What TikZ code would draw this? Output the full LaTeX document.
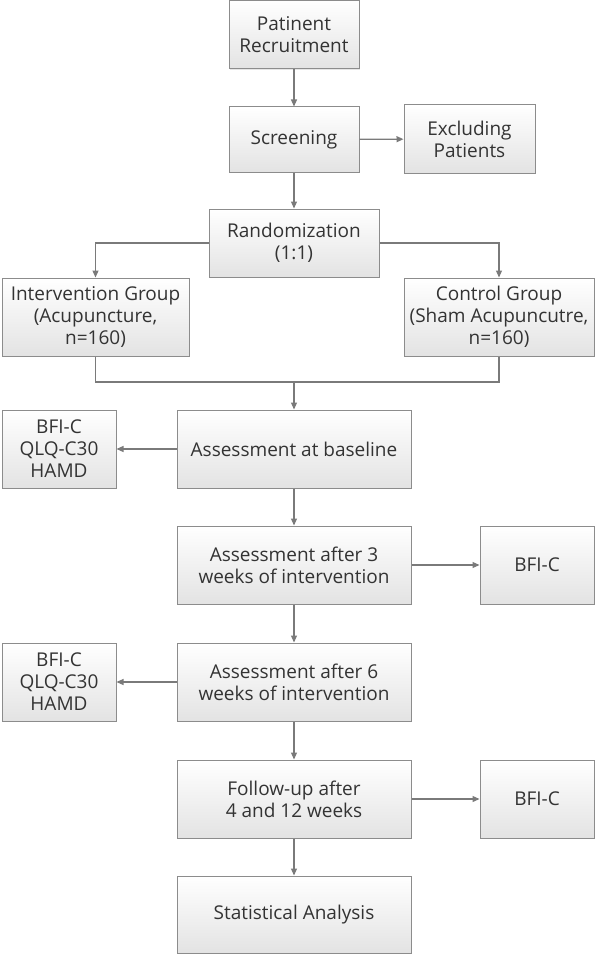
\documentclass[tikz,border=0pt]{standalone}
\usepackage{fontspec}
\setmainfont{Open Sans}
\usetikzlibrary{arrows.meta,shadows}

\definecolor{edgegray}{HTML}{7A7A7A}
\definecolor{boxline}{HTML}{8C8C8C}

\begin{document}
\begin{tikzpicture}[x=1pt,y=-1pt,
	block/.style={draw=boxline,line width=1pt,top color=white,bottom color=black!11,
		drop shadow={shadow xshift=1pt,shadow yshift=-1pt,opacity=0.2},
		align=center,inner sep=2pt,font=\fontsize{19}{22}\selectfont,text=black!80},
	link/.style={draw=edgegray,line width=1.2pt,-{Triangle[length=7pt,width=6pt]}}]
	\useasboundingbox (0,0) rectangle (596,955);
	\node[block,minimum width=130pt,minimum height=68pt] (recruit) at (294,35) {Patinent\\Recruitment};
	\node[block,minimum width=130pt,minimum height=65pt] (screen) at (294,139.5) {Screening};
	\node[block,minimum width=131pt,minimum height=68pt] (exclude) at (469.5,139) {Excluding\\Patients};
	\node[block,minimum width=170pt,minimum height=68pt] (random) at (294,243) {Randomization\\(1:1)};
	\node[block,minimum width=187pt,minimum height=78pt] (interv) at (95.5,317) {Intervention Group\\(Acupuncture,\\n=160)};
	\node[block,minimum width=190pt,minimum height=78pt] (control) at (499,317) {Control Group\\(Sham Acupuncutre,\\n=160)};
	\coordinate (merge) at (294,382);
	\node[block,minimum width=234pt,minimum height=78pt] (base) at (294,449) {Assessment at baseline};
	\node[block,minimum width=114pt,minimum height=78pt] (scoreA) at (59,449) {BFI-C\\QLQ-C30\\HAMD};
	\node[block,minimum width=234pt,minimum height=78pt] (week3) at (294,565) {Assessment after 3\\weeks of intervention};
	\node[block,minimum width=114pt,minimum height=78pt] (bfiA) at (537,565) {BFI-C};
	\node[block,minimum width=234pt,minimum height=78pt] (week6) at (294,682) {Assessment after 6\\weeks of intervention};
	\node[block,minimum width=114pt,minimum height=78pt] (scoreB) at (59,682) {BFI-C\\QLQ-C30\\HAMD};
	\node[block,minimum width=234pt,minimum height=78pt] (follow) at (294,799) {Follow-up after\\4 and 12 weeks};
	\node[block,minimum width=114pt,minimum height=78pt] (bfiB) at (537,799) {BFI-C};
	\node[block,minimum width=234pt,minimum height=77pt] (stats) at (294,914.5) {Statistical Analysis};

	\draw[link] (recruit) -- (screen);
	\draw[link] (screen) -- (exclude);
	\draw[link] (screen) -- (random);
	\draw[link] (random.west) -| (interv.north);
	\draw[link] (random.east) -| (control.north);
	\draw[draw=edgegray,line width=1.2pt] (interv.south) |- (merge) -| (control.south);
	\draw[link] (merge) -- (base);
	\draw[link] (base) -- (scoreA);
	\draw[link] (base) -- (week3);
	\draw[link] (week3) -- (bfiA);
	\draw[link] (week3) -- (week6);
	\draw[link] (week6) -- (scoreB);
	\draw[link] (week6) -- (follow);
	\draw[link] (follow) -- (bfiB);
	\draw[link] (follow) -- (stats);
\end{tikzpicture}
\end{document}
